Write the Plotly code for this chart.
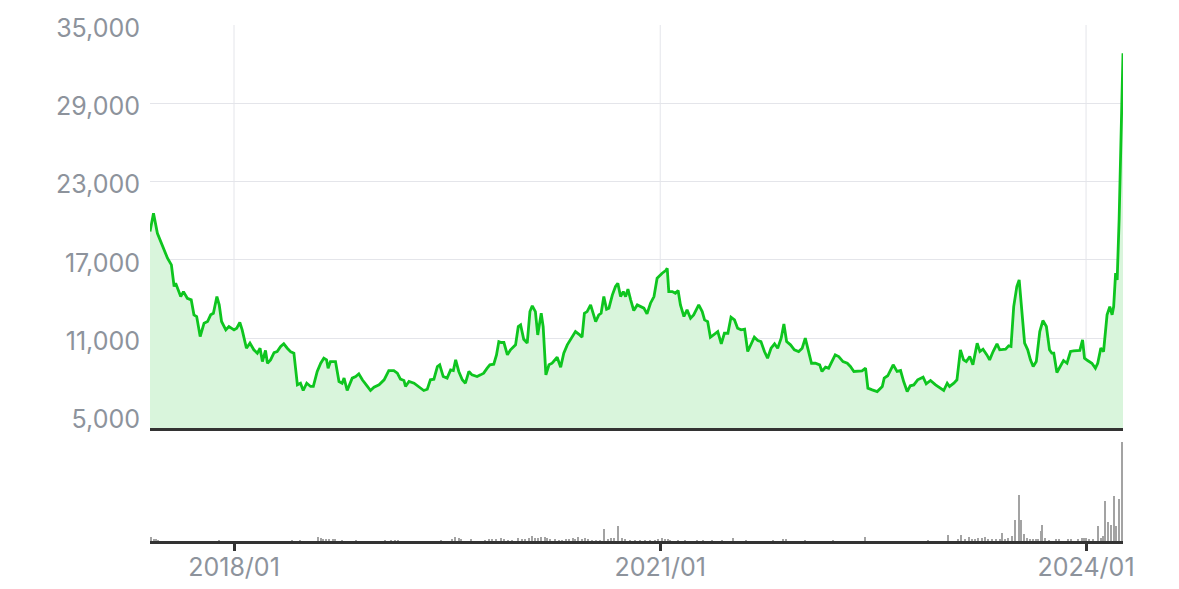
import plotly.graph_objects as go
from plotly.subplots import make_subplots

# Weekly-ish closing prices
price_dates = [
    "2017-05-30", "2017-06-08", "2017-06-18", "2017-07-01", "2017-07-14", "2017-07-24", "2017-07-31",
    "2017-08-04", "2017-08-10", "2017-08-17", "2017-08-24", "2017-09-03", "2017-09-13", "2017-09-20",
    "2017-09-27", "2017-10-06", "2017-10-16", "2017-10-25", "2017-11-02", "2017-11-09", "2017-11-18",
    "2017-11-24", "2017-11-30", "2017-12-11", "2017-12-19", "2018-01-01", "2018-01-08", "2018-01-16",
    "2018-01-22", "2018-02-02", "2018-02-11", "2018-02-21", "2018-03-02", "2018-03-09", "2018-03-15",
    "2018-03-23", "2018-03-28", "2018-04-05", "2018-04-14", "2018-04-22", "2018-05-01", "2018-05-09",
    "2018-05-18", "2018-05-27", "2018-06-04", "2018-06-13", "2018-06-21", "2018-06-28", "2018-07-07",
    "2018-07-17", "2018-07-24", "2018-08-03", "2018-08-12", "2018-08-20", "2018-08-27", "2018-08-31",
    "2018-09-06", "2018-09-19", "2018-09-28", "2018-10-06", "2018-10-11", "2018-10-19", "2018-11-01",
    "2018-11-10", "2018-11-18", "2018-11-27", "2018-12-10", "2018-12-18", "2018-12-27", "2019-01-09",
    "2019-01-22", "2019-02-03", "2019-02-16", "2019-02-25", "2019-03-05", "2019-03-14", "2019-03-18",
    "2019-03-27", "2019-04-09", "2019-04-21", "2019-05-04", "2019-05-13", "2019-05-21", "2019-05-30",
    "2019-06-08", "2019-06-14", "2019-06-23", "2019-07-03", "2019-07-12", "2019-07-19", "2019-07-25",
    "2019-08-02", "2019-08-11", "2019-08-19", "2019-08-28", "2019-09-05", "2019-09-18", "2019-09-27",
    "2019-10-05", "2019-10-14", "2019-10-21", "2019-10-31", "2019-11-07", "2019-11-13", "2019-11-19",
    "2019-11-26", "2019-12-05", "2019-12-13", "2019-12-26", "2020-01-02", "2020-01-08", "2020-01-16",
    "2020-01-25", "2020-02-01", "2020-02-07", "2020-02-15", "2020-02-21", "2020-03-01", "2020-03-06",
    "2020-03-13", "2020-03-21", "2020-03-29", "2020-04-11", "2020-04-20", "2020-04-28", "2020-05-07",
    "2020-05-17", "2020-05-28", "2020-06-08", "2020-06-14", "2020-06-20", "2020-06-27", "2020-07-06",
    "2020-07-12", "2020-07-19", "2020-07-27", "2020-08-02", "2020-08-09", "2020-08-16", "2020-08-22",
    "2020-08-31", "2020-09-08", "2020-09-14", "2020-09-21", "2020-09-28", "2020-10-04", "2020-10-10",
    "2020-10-17", "2020-10-25", "2020-11-03", "2020-11-11", "2020-11-20", "2020-11-28", "2020-12-07",
    "2020-12-16", "2020-12-24", "2021-01-06", "2021-01-15", "2021-01-19", "2021-01-23", "2021-02-01",
    "2021-02-09", "2021-02-16", "2021-02-22", "2021-03-03", "2021-03-11", "2021-03-20", "2021-03-28",
    "2021-04-10", "2021-04-19", "2021-04-25", "2021-05-03", "2021-05-10", "2021-05-19", "2021-05-29",
    "2021-06-07", "2021-06-15", "2021-06-24", "2021-07-02", "2021-07-11", "2021-07-19", "2021-07-28",
    "2021-08-06", "2021-08-14", "2021-08-23", "2021-08-31", "2021-09-09", "2021-09-17", "2021-09-26",
    "2021-10-04", "2021-10-13", "2021-10-22", "2021-10-30", "2021-11-08", "2021-11-15", "2021-11-22",
    "2021-12-02", "2021-12-12", "2021-12-23", "2022-01-01", "2022-01-09", "2022-01-18", "2022-01-25",
    "2022-02-04", "2022-02-15", "2022-02-21", "2022-03-02", "2022-03-10", "2022-03-19", "2022-03-27",
    "2022-04-05", "2022-04-16", "2022-04-27", "2022-05-05", "2022-05-14", "2022-05-26", "2022-06-04",
    "2022-06-13", "2022-06-19", "2022-06-30", "2022-07-13", "2022-07-26", "2022-07-31", "2022-08-09",
    "2022-08-23", "2022-09-02", "2022-09-11", "2022-09-19", "2022-09-28", "2022-10-06", "2022-10-15",
    "2022-10-25", "2022-11-08", "2022-11-16", "2022-11-27", "2022-12-10", "2022-12-22", "2022-12-31",
    "2023-01-09", "2023-01-15", "2023-01-26", "2023-02-03", "2023-02-12", "2023-02-20", "2023-02-27",
    "2023-03-08", "2023-03-16", "2023-03-27", "2023-04-03", "2023-04-11", "2023-04-21", "2023-04-28",
    "2023-05-07", "2023-05-17", "2023-05-24", "2023-06-08", "2023-06-16", "2023-06-22", "2023-06-29",
    "2023-07-07", "2023-07-13", "2023-07-20", "2023-07-27", "2023-08-04", "2023-08-11", "2023-08-18",
    "2023-08-26", "2023-09-04", "2023-09-12", "2023-09-21", "2023-09-29", "2023-10-05", "2023-10-10",
    "2023-10-18", "2023-10-27", "2023-11-04", "2023-11-13", "2023-11-22", "2023-11-30", "2023-12-11",
    "2023-12-16", "2023-12-23", "2023-12-28", "2024-01-05", "2024-01-16", "2024-01-25", "2024-01-31",
    "2024-02-08", "2024-02-15", "2024-02-24", "2024-03-02", "2024-03-08", "2024-03-12", "2024-03-17",
    "2024-03-21", "2024-03-26", "2024-03-31", "2024-04-05",
]
price_values = [
    19170, 20570, 19040, 18020, 17130, 16620, 14960,
    15210, 14700, 14190, 14570, 14060, 13940, 12790,
    12660, 11130, 12150, 12280, 12790, 12910, 14190,
    13550, 12280, 11640, 11890, 11640, 11770, 12200,
    11640, 10230, 10620, 10110, 9850, 10230, 9210,
    10060, 9080, 9340, 9900, 9980, 10360, 10570,
    10230, 9950, 9850, 7430, 7550, 6990, 7550,
    7300, 7300, 8450, 9080, 9470, 9340, 8700,
    9210, 9210, 7680, 7550, 7940, 6990, 7940,
    8060, 8270, 7810, 7300, 6990, 7250, 7430,
    7810, 8520, 8520, 8320, 7860, 7760, 7300,
    7680, 7550, 7300, 6990, 7090, 7810, 7860,
    8830, 8960, 8060, 7940, 8570, 8520, 9340,
    8450, 7810, 7550, 8450, 8190, 8060, 8190,
    8320, 8700, 8960, 9010, 9720, 10740, 10670,
    10670, 9720, 10110, 10490, 11890, 12020, 10920,
    10620, 13040, 13480, 13040, 11250, 12910, 11890,
    8190, 8960, 9080, 9540, 8780, 9850, 10490,
    11000, 11510, 11250, 11080, 12910, 13040, 13550,
    12910, 12270, 12780, 12910, 14190, 13220, 13300,
    14320, 14960, 15210, 14190, 14570, 14190, 14760,
    13940, 13120, 13550, 13420, 13300, 12860, 13680,
    14190, 15600, 15980, 16180, 16360, 14570, 14570,
    14440, 14650, 13550, 12660, 13170, 12530, 12780,
    13550, 13040, 12400, 12270, 11070, 11250, 11510,
    10570, 11380, 11380, 12610, 12400, 11770, 11640,
    11690, 9980, 10620, 11080, 10820, 10740, 9980,
    9470, 10230, 10570, 10230, 11000, 12090, 10740,
    10490, 10110, 9980, 10230, 11000, 9980, 9080,
    9080, 8960, 8450, 8780, 8700, 9210, 9720,
    9590, 9210, 9080, 8830, 8450, 8450, 8500,
    8700, 7170, 7040, 6910, 7300, 7940, 8120,
    8960, 8450, 8520, 7680, 6910, 7350, 7420,
    7810, 8010, 7500, 7760, 7420, 7170, 6990,
    7550, 7300, 7550, 7810, 10110, 9340, 9210,
    9600, 8960, 10620, 9980, 10160, 9720, 9340,
    9980, 10570, 10110, 10160, 10410, 10360, 13420,
    14960, 15470, 13170, 10620, 10110, 9340, 8830,
    9210, 11510, 12350, 11890, 10110, 9850, 9850,
    8370, 8830, 9290, 9080, 9980, 10030, 10060,
    10060, 10870, 9470, 9290, 9080, 8700, 9080,
    10240, 9980, 12790, 13420, 12790, 13420, 15980,
    15470, 20060, 26440, 32830,
]

# Trading volume (relative units)
volume_dates = [
    "2017-06-03", "2017-06-10", "2017-06-16", "2017-06-21", "2017-11-23", "2018-05-31", "2018-06-19",
    "2018-08-06", "2018-08-12", "2018-08-19", "2018-08-27", "2018-09-04", "2018-09-12", "2018-09-19",
    "2018-10-07", "2018-11-11", "2019-01-26", "2019-02-08", "2019-02-20", "2019-02-28", "2019-06-19",
    "2019-07-17", "2019-07-25", "2019-08-02", "2019-08-07", "2019-09-04", "2019-10-10", "2019-10-18",
    "2019-10-28", "2019-11-07", "2019-11-18", "2019-11-28", "2019-12-08", "2019-12-18", "2020-01-03",
    "2020-01-11", "2020-01-19", "2020-01-29", "2020-02-07", "2020-02-15", "2020-02-23", "2020-03-02",
    "2020-03-10", "2020-03-17", "2020-03-25", "2020-04-07", "2020-04-15", "2020-04-23", "2020-05-05",
    "2020-05-13", "2020-05-21", "2020-05-28", "2020-06-05", "2020-06-15", "2020-06-23", "2020-07-01",
    "2020-07-11", "2020-07-20", "2020-07-31", "2020-08-11", "2020-08-20", "2020-08-28", "2020-09-05",
    "2020-09-14", "2020-09-25", "2020-10-04", "2020-10-17", "2020-10-29", "2020-11-11", "2020-11-24",
    "2020-12-07", "2020-12-20", "2020-12-27", "2021-01-06", "2021-01-15", "2021-01-22", "2021-01-27",
    "2021-02-17", "2021-03-07", "2021-04-06", "2021-04-22", "2021-05-15", "2021-06-09", "2021-07-07",
    "2021-08-10", "2021-10-18", "2021-11-12", "2021-11-20", "2022-01-09", "2022-03-21", "2022-06-13",
    "2022-11-22", "2023-01-11", "2023-02-07", "2023-02-15", "2023-02-24", "2023-03-07", "2023-03-15",
    "2023-03-23", "2023-03-30", "2023-04-09", "2023-04-17", "2023-04-25", "2023-05-05", "2023-05-15",
    "2023-05-26", "2023-05-30", "2023-06-08", "2023-06-16", "2023-06-25", "2023-07-03", "2023-07-12",
    "2023-07-19", "2023-07-26", "2023-08-02", "2023-08-11", "2023-08-18", "2023-08-26", "2023-09-01",
    "2023-09-07", "2023-09-11", "2023-09-18", "2023-09-27", "2023-10-17", "2023-10-23", "2023-11-16",
    "2023-11-23", "2023-12-13", "2023-12-22", "2023-12-28", "2024-01-02", "2024-01-10", "2024-01-19",
    "2024-02-01", "2024-02-09", "2024-02-14", "2024-02-20", "2024-02-27", "2024-03-05", "2024-03-14",
    "2024-03-19", "2024-03-27", "2024-04-04",
]
volume_values = [
    4, 2, 2, 1, 1, 1, 1,
    4, 3, 2, 2, 2, 2, 2,
    1, 1, 1, 1, 1, 1, 1,
    2, 4, 3, 2, 2, 1, 2,
    2, 2, 3, 2, 1, 1, 3,
    2, 2, 3, 5, 3, 3, 4,
    4, 3, 2, 2, 1, 1, 2,
    2, 3, 2, 4, 2, 3, 2,
    1, 1, 1, 12, 2, 3, 3,
    15, 3, 2, 1, 1, 1, 1,
    1, 1, 2, 3, 2, 2, 1,
    1, 1, 1, 1, 1, 1, 3,
    1, 1, 2, 2, 1, 1, 4,
    1, 6, 2, 6, 2, 4, 2,
    2, 3, 3, 4, 2, 2, 2,
    2, 8, 2, 3, 5, 21, 46,
    21, 7, 3, 2, 2, 2, 2,
    10, 16, 3, 1, 2, 2, 2,
    2, 2, 3, 3, 3, 2, 2,
    15, 3, 5, 40, 19, 16, 45,
    15, 42, 99,
]

y_ticks = [5000, 11000, 17000, 23000, 29000, 35000]
x_ticks = ["2018-01-01", "2021-01-01", "2024-01-01"]

font_family = "Inter, Open Sans, sans-serif"
label_color = "#8d939c"
grid_color = "#e4e5ea"

fig = make_subplots(rows=2, cols=1, shared_xaxes=False, vertical_spacing=0.0)

fig.add_trace(go.Scatter(
    x=price_dates, y=price_values,
    mode="lines",
    line=dict(color="#0ec51f", width=2.8),
    fill="tozeroy",
    fillcolor="#d9f5dc",
    hoverinfo="skip",
), row=1, col=1)

fig.add_trace(go.Bar(
    x=volume_dates, y=volume_values,
    marker=dict(color="#a3a3a3", line=dict(width=0)),
    width=3.5 * 86400000,
    hoverinfo="skip",
), row=2, col=1)

x_range = [price_dates[0], price_dates[-1]]

# vertical grid only between the lowest and highest price ticks
for t in x_ticks:
    fig.add_shape(type="line", xref="x", yref="y", x0=t, x1=t, y0=y_ticks[0], y1=y_ticks[-1],
                  line=dict(color=grid_color, width=1), layer="below")

fig.update_layout(
    width=1179, height=589,
    margin=dict(l=142, r=64, t=16, b=56),
    paper_bgcolor="white", plot_bgcolor="white",
    showlegend=False,
    font=dict(family=font_family, size=25, color=label_color),
    bargap=0,
    xaxis=dict(domain=[0, 1], range=x_range, type="date", showgrid=False, showticklabels=False,
               showline=True, linecolor="#333333", linewidth=2.5, ticks="", zeroline=False,
               automargin=False),
    yaxis=dict(domain=[0.2186, 1], range=[4119, 35077], tickvals=y_ticks, tickformat=",d",
               showgrid=True, gridcolor=grid_color, gridwidth=1, zeroline=False, showline=False,
               ticks="", ticklabelstandoff=9, ticklabelshift=3, automargin=False),
    xaxis2=dict(domain=[0, 1], range=x_range, type="date", tickvals=x_ticks, tickformat="%Y/%m",
                showgrid=False, showline=True, linecolor="#333333", linewidth=2.5,
                ticks="outside", ticklen=7, tickwidth=2.5, tickcolor="#333333", zeroline=False,
                ticklabelstandoff=-5, automargin=False),
    yaxis2=dict(domain=[0, 0.192], range=[0, 99], visible=False, showgrid=False, automargin=False),
)

fig.write_html("out.html")
